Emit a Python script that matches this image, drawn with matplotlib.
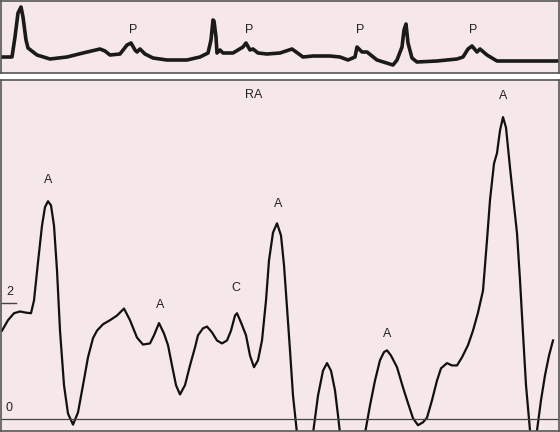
import matplotlib
matplotlib.use("Agg")
import matplotlib.pyplot as plt
import numpy as np

plt.rcParams["font.family"] = ["Liberation Sans", "DejaVu Sans"]

# ECG strip (time in px units, amplitude in arbitrary units)
ecg_t = [0, 12, 15, 18, 21, 23, 26, 28, 37, 50, 67, 83, 100, 105, 110, 120, 127, 131,
         135, 137, 140, 145, 153, 167, 187, 200, 208, 211, 213, 214, 216, 217, 220, 223,
         233, 243, 246, 250, 253, 258, 267, 280, 292, 303, 313, 330, 340, 348, 355, 357,
         362, 367, 377, 393, 397, 402, 404, 406, 408, 412, 417, 437, 457, 463, 468, 472,
         477, 480, 487, 497, 520, 557]
ecg_v = [16, 16, 36, 60, 66, 56, 33, 25, 18, 14, 16, 20, 24, 22, 18, 19, 28, 30,
         23, 21, 24, 19, 15, 13, 13, 16, 20, 33, 53, 52, 36, 20, 23, 20,
         20, 26, 30, 23, 24, 20, 19, 20, 24, 16, 17, 17, 16, 13, 16, 26,
         21, 21, 13, 8, 13, 26, 43, 49, 30, 15, 11, 12, 14, 16, 24, 27,
         21, 24, 18, 12, 12, 12]
p_labels_t = [133, 249, 360, 473]

# RA pressure trace
ra_t = [2, 8, 14, 20, 26, 31, 34, 38, 42, 45, 48, 51, 54, 57, 60, 64, 68, 73, 78, 83,
        88, 93, 97, 103, 110, 117, 124, 130, 137, 143, 150, 154, 159, 164, 168, 172,
        176, 180, 185, 190, 195, 198, 203, 207, 212, 217, 222, 227, 231, 235, 237, 241,
        246, 250, 254, 258, 262, 266, 269, 273, 277, 281, 284, 287, 290, 293, 297, 300,
        305, 310, 313, 318, 323, 327, 331, 335, 338, 340, 345, 352, 360, 365, 370, 375,
        380, 384, 387, 391, 397, 403, 408, 413, 418, 423, 427, 432, 437, 441, 447, 452,
        457, 462, 468, 473, 478, 483, 487, 490, 494, 497, 500, 503, 506, 510, 514, 517,
        520, 523, 526, 530, 533, 537, 541, 545, 549, 553]
ra_v = [1.53, 1.71, 1.83, 1.86, 1.84, 1.83, 2.05, 2.71, 3.34, 3.66, 3.76, 3.69, 3.34,
        2.57, 1.53, 0.59, 0.10, -0.09, 0.12, 0.59, 1.07, 1.40, 1.53, 1.64, 1.71, 1.79,
        1.91, 1.71, 1.41, 1.29, 1.31, 1.45, 1.66, 1.48, 1.28, 0.93, 0.59, 0.43, 0.59,
        0.93, 1.24, 1.45, 1.57, 1.60, 1.50, 1.36, 1.31, 1.36, 1.53, 1.79, 1.83, 1.67,
        1.45, 1.10, 0.90, 1.02, 1.36, 2.05, 2.74, 3.22, 3.38, 3.17, 2.66, 1.93, 1.19,
        0.41, -0.24, -0.71, -0.88, -0.62, -0.24, 0.41, 0.84, 0.97, 0.84, 0.50, 0.07,
        -0.24, -0.88, -1.22, -0.71, -0.24, 0.24, 0.67, 1.02, 1.16, 1.19, 1.10, 0.90,
        0.55, 0.28, 0.02, -0.10, -0.05, 0.03, 0.33, 0.67, 0.88, 0.97, 0.93, 0.93, 1.07,
        1.28, 1.53, 1.84, 2.22, 3.09, 3.78, 4.41, 4.59, 4.98, 5.21, 5.03, 4.34, 3.69,
        3.21, 2.40, 1.48, 0.59, -0.19, -0.53, -0.19, 0.33, 0.76, 1.10, 1.36]

# wave labels (time, pressure, text)
wave_t = [48, 160, 236, 278, 387, 503]
wave_v = [4.13, 1.98, 2.26, 3.72, 1.47, 5.57]
wave_txt = ["A", "A", "C", "A", "A", "A"]

bg = "#f6e7e8"
frame = "#555555"
W, H = 560, 432

fig = plt.figure(figsize=(5.6, 4.32), dpi=100)

# top panel: ECG
ax1 = fig.add_axes([1 / W, (H - 73) / H, 558 / W, 72 / H])
ax1.set_facecolor(bg)
ax1.plot(ecg_t, ecg_v, color="#1a1a1a", lw=2.6, solid_joinstyle="round")
for t in p_labels_t:
    ax1.text(t, 43, "P", ha="center", va="center", fontsize=9, color="#222222")
ax1.set_xlim(1, 559)
ax1.set_ylim(0, 72)

# bottom panel: RA pressure
ax2 = fig.add_axes([1 / W, 1 / H, 558 / W, 351 / H])
ax2.set_facecolor(bg)
ax2.plot(ra_t, ra_v, color="#111111", lw=1.6, solid_joinstyle="round")
ax2.axhline(0, color="#444444", lw=0.9)
ax2.plot([1, 16], [2, 2], color="#444444", lw=1.0)
ax2.text(10, 2.1, "2", ha="center", va="bottom", fontsize=9, color="#222222")
ax2.text(9, 0.1, "0", ha="center", va="bottom", fontsize=9, color="#222222")
ax2.text(254, 5.6, "RA", ha="center", va="center", fontsize=9, color="#222222")
for t, v, s in zip(wave_t, wave_v, wave_txt):
    ax2.text(t, v, s, ha="center", va="center", fontsize=9, color="#222222")
ax2.set_xlim(1, 559)
ax2.set_ylim(-0.2, 5.85)

for ax in (ax1, ax2):
    ax.set_xticks([])
    ax.set_yticks([])
    for sp in ax.spines.values():
        sp.set_color(frame)
        sp.set_linewidth(1.2)

fig.savefig("out.png", dpi=100, facecolor="white")
